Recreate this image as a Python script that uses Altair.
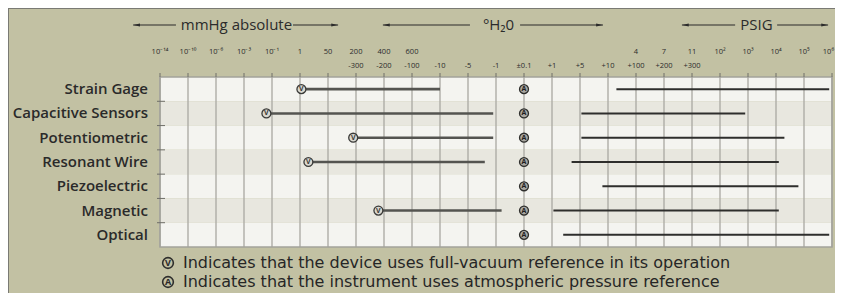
import altair as alt
import pandas as pd

# ---------------- data ----------------
categories = ["Strain Gage", "Capacitive Sensors", "Potentiometric", "Resonant Wire",
              "Piezoelectric", "Magnetic", "Optical"]
# positions in scale-column units (0 = 10^-14 mmHg ... 24 = 10^6 PSIG)
vac_start = [5.05, 3.8, 6.9, 5.3, None, 7.8, None]
vac_end = [10.0, 11.9, 11.9, 11.6, None, 12.2, None]
gauge_start = [16.3, 15.05, 15.05, 14.7, 15.8, 14.05, 14.4]
gauge_end = [23.9, 20.9, 22.3, 22.1, 22.8, 22.1, 23.9]
atm_ref = 13

tick_top = ["10⁻¹⁴", "10⁻¹⁰", "10⁻⁶", "10⁻³", "10⁻¹", "1", "50", "200", "400", "600",
            "", "", "", "", "", "", "", "4", "7", "11", "10²", "10³", "10⁴", "10⁵", "10⁶"]
tick_bottom = ["", "", "", "", "", "", "", "-300", "-200", "-100", "-10", "-5", "-1",
               "±0.1", "+1", "+5", "+10", "+100", "+200", "+300", "", "", "", "", ""]

headers = ["mmHg absolute", "°H₂0", "PSIG"]
header_left = [-0.96, 7.96, 18.64]
header_gap_l = [0.57, 11.07, 20.54]
header_gap_r = [4.75, 12.86, 22.04]
header_right = [6.36, 15.82, 23.86]
header_mid = [2.73, 12.09, 21.3]

legend_text = ["Indicates that the device uses full-vacuum reference in its operation",
               "Indicates that the instrument uses atmospheric pressure reference"]
legend_sym = ["V", "A"]

# ---------------- layout ----------------
W, H = 827, 285
X0, X1 = 152, 824
Y0, Y1 = 69, 239
FONT = "Open Sans"
DARK = "#2b2b2b"
BG = "#c2c1a3"

xs = alt.Scale(domain=[0, 24], range=[X0, X1])
ys = alt.Scale(domain=[0, 7], range=[Y0, Y1])


def X(f):
    return alt.X(f, type="quantitative", scale=xs, axis=None)


def X2(f):
    return alt.X2(f)


def Y(f):
    return alt.Y(f, type="quantitative", scale=ys, axis=None)


rows = pd.DataFrame({
    "cat": categories,
    "i": range(len(categories)),
})
rows["top"] = rows["i"]
rows["bot"] = rows["i"] + 1
rows["yc"] = rows["i"] + 0.5
rows["shade"] = rows["i"] % 2
rows["lo"] = 0
rows["hi"] = 24
rows["atm"] = atm_ref

grid = pd.DataFrame({"k": range(25), "t1": tick_top, "t2": tick_bottom})

vac = pd.DataFrame({"cat": categories, "s": vac_start, "e": vac_end,
                    "yc": [i + 0.5 for i in range(len(categories))]}).dropna()
gau = pd.DataFrame({"cat": categories, "s": gauge_start, "e": gauge_end,
                    "yc": [i + 0.5 for i in range(len(categories))]})

bounds = pd.DataFrame({"b": list(range(1, len(categories)))})

hdr = pd.DataFrame({"name": headers, "l": header_left, "gl": header_gap_l,
                    "gr": header_gap_r, "r": header_right, "m": header_mid})

leg = pd.DataFrame({"t": legend_text, "s": legend_sym, "y": [255, 274]})

# ---------------- layers ----------------
bg = alt.Chart(rows).mark_rect().encode(
    x=X("lo"), x2=X2("hi"), y=Y("top"), y2=alt.Y2("bot"),
    color=alt.Color("shade:N", scale=alt.Scale(domain=[0, 1], range=["#f4f4f0", "#e8e7df"]),
                    legend=None),
)

gridlines = alt.Chart(grid).mark_rule(color="#aeada6", strokeWidth=1.4).encode(
    x=X("k"), y=alt.value(Y0), y2=alt.value(Y1)
)

topticks = alt.Chart(grid).mark_rule(color="#6e6e68", strokeWidth=1).encode(
    x=X("k"), y=alt.value(Y0 - 4), y2=alt.value(Y0)
)

border = alt.Chart(rows.head(1)).mark_rect(fill=None, stroke="#a3a29b", strokeWidth=1.5).encode(
    x=X("lo"), x2=X2("hi"), y=alt.value(Y0), y2=alt.value(Y1)
)

lab1 = alt.Chart(grid).transform_filter("datum.k < 24").mark_text(
    font=FONT, fontSize=7.5, color=DARK, baseline="middle").encode(
    x=X("k"), y=alt.value(44), text="t1:N"
)
lab1_last = alt.Chart(grid).transform_filter("datum.k == 24").mark_text(
    font=FONT, fontSize=7.5, color=DARK, baseline="middle", align="right", dx=2).encode(
    x=X("k"), y=alt.value(44), text="t1:N"
)
lab2 = alt.Chart(grid).mark_text(font=FONT, fontSize=7.5, color=DARK, baseline="middle").encode(
    x=X("k"), y=alt.value(58), text="t2:N"
)

lticks = alt.Chart(bounds).mark_rule(color="#6e6e68", strokeWidth=1).encode(
    x=alt.value(149), x2=alt.value(157), y=Y("b")
)

catlab = alt.Chart(rows).mark_text(font=FONT, fontSize=15, fontWeight=600, color="#2a2a2a",
                                   align="right", baseline="middle").encode(
    x=alt.value(140), y=Y("yc"), text="cat:N"
)

vseg = alt.Chart(vac).mark_rule(color="#545450", strokeWidth=2.6).encode(
    x=X("s"), x2=X2("e"), y=Y("yc")
)
gseg = alt.Chart(gau).mark_rule(color="#2e2e2c", strokeWidth=2).encode(
    x=X("s"), x2=X2("e"), y=Y("yc")
)

vmark = alt.Chart(vac).mark_point(filled=True, fill="#d9d8d0", stroke="#3a3a38",
                                  strokeWidth=1.3, size=80, opacity=1).encode(
    x=X("s"), y=Y("yc")
)
vtxt = alt.Chart(vac).mark_text(text="V", font=FONT, fontSize=7, fontWeight="bold",
                                color="#3a3a38", baseline="middle").encode(
    x=X("s"), y=Y("yc")
)
amark = alt.Chart(rows).mark_point(filled=True, fill="#a9a8a2", stroke="#2e2e2c",
                                   strokeWidth=1.3, size=80, opacity=1).encode(
    x=X("atm"), y=Y("yc")
)
atxt = alt.Chart(rows).mark_text(text="A", font=FONT, fontSize=7, fontWeight="bold",
                                 color="#1e1e1e", baseline="middle").encode(
    x=X("atm"), y=Y("yc")
)

# header arrows
HY = 17
hl = alt.Chart(hdr).mark_rule(color=DARK, strokeWidth=1.2).encode(
    x=X("l"), x2=X2("gl"), y=alt.value(HY))
hr = alt.Chart(hdr).mark_rule(color=DARK, strokeWidth=1.2).encode(
    x=X("gr"), x2=X2("r"), y=alt.value(HY))
LEFT_HEAD = "M -1 0 L 1 -0.45 L 1 0.45 Z"
RIGHT_HEAD = "M 1 0 L -1 -0.45 L -1 0.45 Z"
hal = alt.Chart(hdr).mark_point(shape=LEFT_HEAD, filled=True, color=DARK, size=45,
                                opacity=1, xOffset=3.5).encode(x=X("l"), y=alt.value(HY))
har = alt.Chart(hdr).mark_point(shape=RIGHT_HEAD, filled=True, color=DARK, size=45,
                                opacity=1, xOffset=-3.5).encode(x=X("r"), y=alt.value(HY))
htxt = alt.Chart(hdr).mark_text(font=FONT, fontSize=15, color=DARK, baseline="middle").encode(
    x=X("m"), y=alt.value(HY), text="name:N")

# legend
legc = alt.Chart(leg).mark_point(filled=True, fill=BG, stroke="#2e2e2c",
                                 strokeWidth=1.6, size=115, opacity=1).encode(
    x=alt.value(160), y=alt.Y("y:Q", scale=None))
legs = alt.Chart(leg).mark_text(font=FONT, fontSize=9, fontWeight="bold", color="#2a2a2a",
                                baseline="middle").encode(
    x=alt.value(160), y=alt.Y("y:Q", scale=None), text="s:N")
legt = alt.Chart(leg).mark_text(font="DejaVu Sans", fontSize=16, color="#262626", align="left",
                                baseline="middle").encode(
    x=alt.value(175), y=alt.Y("y:Q", scale=None), text="t:N")

# frame shadow
ftop = alt.Chart(hdr.head(1)).mark_rule(color="#7a7a74", strokeWidth=2).encode(
    x=alt.value(0), x2=alt.value(W), y=alt.value(0))
fleft = alt.Chart(hdr.head(1)).mark_rule(color="#7a7a74", strokeWidth=2).encode(
    x=alt.value(0), y=alt.value(0), y2=alt.value(H))

chart = alt.layer(
    bg, gridlines, border, topticks, lab1, lab1_last, lab2, lticks, catlab,
    vseg, gseg, vmark, vtxt, amark, atxt,
    hl, hr, hal, har, htxt, legc, legs, legt, ftop, fleft
).properties(
    width=W, height=H, background=BG, padding=0,
    autosize=alt.AutoSizeParams(type="none"),
).configure_view(stroke=None)

chart.save("out.html", embed_options={"renderer": "svg", "actions": False})
